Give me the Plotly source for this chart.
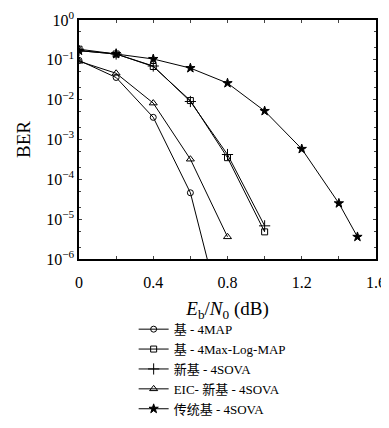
import plotly.graph_objects as go

x_map = [0, 0.2, 0.4, 0.6, 0.8]
ber_map = [0.097, 0.036, 0.0036, 4.6e-5, 1.0e-8]

x_maxlog = [0, 0.2, 0.4, 0.6, 0.8, 1.0]
ber_maxlog = [0.185, 0.14, 0.068, 0.0095, 3.5e-4, 4.8e-6]

x_sova_new = [0, 0.2, 0.4, 0.6, 0.8, 1.0]
ber_sova_new = [0.17, 0.14, 0.07, 0.009, 4.2e-4, 6.8e-6]

x_eic = [0, 0.2, 0.4, 0.6, 0.8]
ber_eic = [0.092, 0.046, 0.0082, 3.2e-4, 3.6e-6]

x_trad = [0, 0.2, 0.4, 0.6, 0.8, 1.0, 1.2, 1.4, 1.5]
ber_trad = [0.17, 0.14, 0.105, 0.062, 0.026, 0.0052, 5.8e-4, 2.5e-5, 3.6e-6]

names = ["基 - 4MAP", "基 - 4Max-Log-MAP", "新基 - 4SOVA", "EIC- 新基 - 4SOVA", "传统基 - 4SOVA"]

x_tickvals = [0, 0.4, 0.8, 1.2, 1.6]
x_ticktext = ["0", "0.4", "0.8", "1.2", "1.6"]
y_tickvals = [1, 1e-1, 1e-2, 1e-3, 1e-4, 1e-5, 1e-6]
y_ticktext = ["10<sup>0</sup>", "10<sup>−1</sup>", "10<sup>−2</sup>", "10<sup>−3</sup>",
              "10<sup>−4</sup>", "10<sup>−5</sup>", "10<sup>−6</sup>"]

xs = [x_map, x_maxlog, x_sova_new, x_eic, x_trad]
ys = [ber_map, ber_maxlog, ber_sova_new, ber_eic, ber_trad]
symbols = ["circle-open", "square-open", "cross-thin-open", "triangle-up-open", "star"]
sizes = [6, 6, 8, 7, 7]

fig = go.Figure()
for n, x, y, s, sz in zip(names, xs, ys, symbols, sizes):
    fig.add_trace(go.Scatter(
        x=x, y=y, name=n, mode="lines+markers",
        line=dict(color="black", width=1),
        marker=dict(symbol=s, size=sz, color="black", line=dict(color="black", width=1)),
    ))

font_fam = "Liberation Serif, DejaVu Serif, Noto Sans CJK SC, serif"
fig.update_layout(
    width=389, height=428,
    margin=dict(l=71, r=21, t=12, b=177, autoexpand=False),
    paper_bgcolor="white", plot_bgcolor="white",
    font=dict(family=font_fam, size=16, color="black"),
    showlegend=True,
    legend=dict(x=0.184, y=-0.231, xanchor="left", yanchor="top",
                font=dict(size=13), bgcolor="rgba(0,0,0,0)",
                tracegroupgap=0, itemwidth=30),
    xaxis=dict(range=[0, 1.6], tickvals=x_tickvals, ticktext=x_ticktext,
               ticks="inside", ticklen=3, mirror="allticks", showline=True,
               linecolor="black", linewidth=1.5, showgrid=False, zeroline=False,
               automargin=False, ticklabelstandoff=8,
               minor=dict(tickvals=[0.2, 0.6, 1.0, 1.4], ticks="inside", ticklen=3),
               title=dict(text="<i>E</i><sub>b</sub>/<i>N</i><sub>0</sub> (dB)", standoff=12)),
    yaxis=dict(type="log", range=[-6, 0], tickvals=y_tickvals, ticktext=y_ticktext,
               ticks="inside", ticklen=3, mirror="allticks", showline=True,
               linecolor="black", linewidth=1.5, showgrid=False, zeroline=False,
               automargin=False,
               minor=dict(ticks="inside", ticklen=2),
               title=dict(text="BER", standoff=10)),
)
fig.write_html("out.html")
